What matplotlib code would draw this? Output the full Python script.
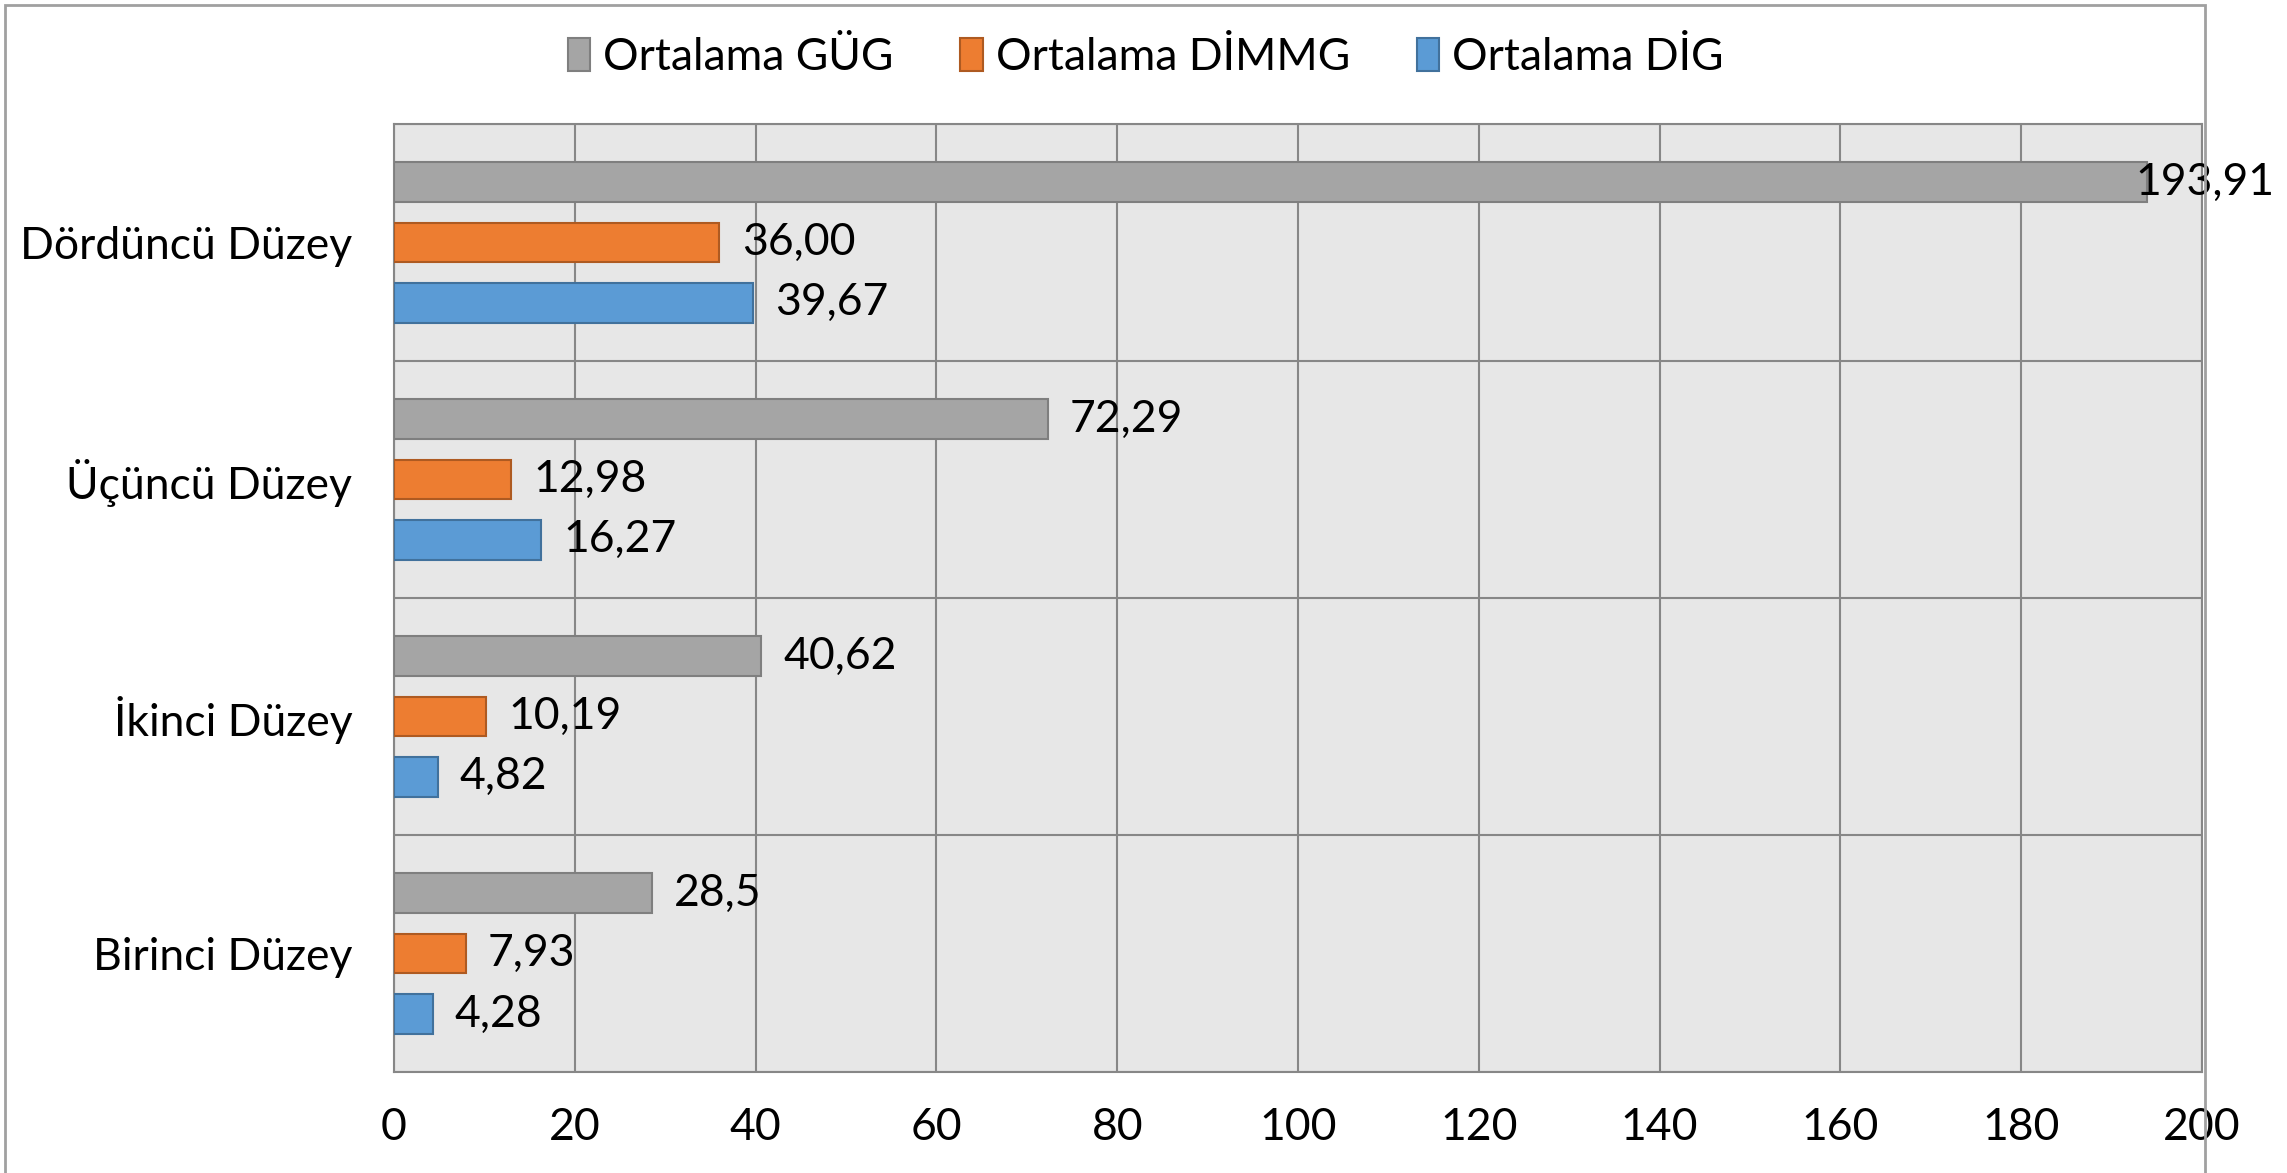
import matplotlib.pyplot as plt
from matplotlib.patches import Rectangle
import numpy as np

plt.rcParams['font.family'] = ['Lato', 'DejaVu Sans']

categories = ['Birinci Düzey', 'İkinci Düzey', 'Üçüncü Düzey', 'Dördüncü Düzey']
series_names = ['Ortalama GÜG', 'Ortalama DİMMG', 'Ortalama DİG']
gug = [28.5, 40.62, 72.29, 193.91]
dimmg = [7.93, 10.19, 12.98, 36.00]
dig = [4.28, 4.82, 16.27, 39.67]
gug_labels = ['28,5', '40,62', '72,29', '193,91']
dimmg_labels = ['7,93', '10,19', '12,98', '36,00']
dig_labels = ['4,28', '4,82', '16,27', '39,67']
x_ticks = [0, 20, 40, 60, 80, 100, 120, 140, 160, 180, 200]

fills = ['#a5a5a5', '#ed7d31', '#5b9bd5']
edges = ['#7f7f7f', '#ae5a21', '#41719c']
fs = 32

fig = plt.figure(figsize=(22.87, 11.73), dpi=100)
ax = fig.add_axes([0.1723, 0.0861, 0.7905, 0.8082])
ax.set_facecolor('#e7e7e7')

y = np.arange(len(categories))
offsets = [0.255, 0.0, -0.255]
h = 0.166
bars_all = []
for vals, labs, off, fc, ec, name in zip([gug, dimmg, dig], [gug_labels, dimmg_labels, dig_labels],
                                         offsets, fills, edges, series_names):
    bars = ax.barh(y + off, vals, height=h, color=fc, edgecolor=ec, linewidth=1.5, label=name, zorder=3)
    bars_all.append(bars)
    for b, t in zip(bars, labs):
        # near the right edge excel pulls the label back over the bar end
        dx = -8 if b.get_width() > 190 else 16
        ax.annotate(t, xy=(b.get_width(), b.get_y() + b.get_height() / 2), xytext=(dx, 0),
                    textcoords='offset points', va='center', ha='left', fontsize=fs,
                    zorder=5, annotation_clip=False)

ax.set_xlim(0, 200)
ax.set_ylim(-0.5, 3.5)
ax.set_xticks(x_ticks)
ax.set_xticklabels([str(v) for v in x_ticks], fontsize=fs)
ax.set_yticks(y)
ax.set_yticklabels(categories, fontsize=fs)
ax.set_yticks(np.arange(-0.5, 4, 1), minor=True)
ax.tick_params(axis='both', length=0, which='both')
ax.tick_params(axis='x', pad=25)
ax.tick_params(axis='y', pad=30)
ax.grid(axis='x', color='#878787', linewidth=1.5, zorder=0)
ax.grid(axis='y', which='minor', color='#878787', linewidth=1.5, zorder=0)
ax.grid(axis='y', which='major', visible=False)
ax.set_axisbelow(True)
for s in ax.spines.values():
    s.set_color('#878787')
    s.set_linewidth(1.5)

fig.legend(bars_all, series_names, loc='center', bbox_to_anchor=(0.501, 0.951), ncol=3, frameon=False,
           fontsize=fs, handlelength=0.5, handleheight=0.75, handletextpad=0.3, columnspacing=1.5)

fig.patches.append(Rectangle((5 / 2287, -0.05), 2200 / 2287, 1.05 - 5 / 1173, transform=fig.transFigure,
                             fill=False, edgecolor='#a0a0a0', linewidth=2))

fig.savefig('out.png')
